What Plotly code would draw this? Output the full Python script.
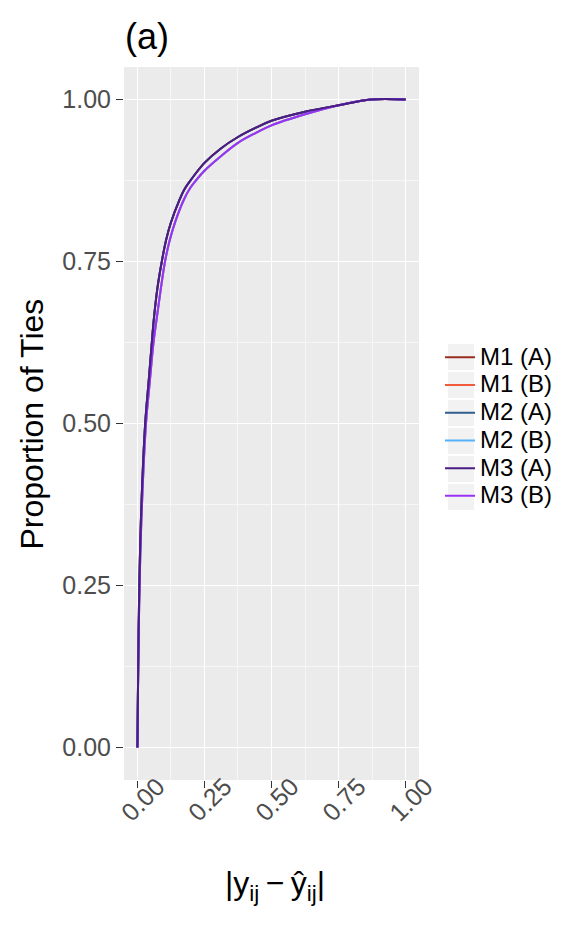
import plotly.graph_objects as go

series_names = ["M1 (A)", "M1 (B)", "M2 (A)", "M2 (B)", "M3 (A)", "M3 (B)"]
series_colors = ["#9A2E22", "#F25A3C", "#2F5D8C", "#56B1F7", "#4A1C86", "#9932F5"]

# |y - yhat| values (x) and cumulative proportion of ties (y)
x_A = [0.0, 0.003, 0.007, 0.015, 0.029, 0.043, 0.053, 0.061, 0.075, 0.091, 0.107, 0.125, 0.158, 0.175, 0.198,
       0.25, 0.31, 0.375, 0.44, 0.5, 0.625, 0.75, 0.87, 1.0]
y_A = [0.0, 0.125, 0.25, 0.375, 0.5, 0.57, 0.621, 0.66, 0.71, 0.75, 0.783, 0.81, 0.846, 0.861, 0.875,
       0.902, 0.924, 0.942, 0.956, 0.967, 0.981, 0.991, 1.0, 1.0]
x_B = [0.0, 0.003, 0.008, 0.017, 0.032, 0.047, 0.06, 0.074, 0.088, 0.103, 0.12, 0.14, 0.174, 0.198, 0.22,
       0.25, 0.31, 0.375, 0.44, 0.5, 0.625, 0.75, 0.87, 1.0]
y_B = [0.0, 0.125, 0.25, 0.375, 0.5, 0.568, 0.625, 0.668, 0.71, 0.75, 0.782, 0.81, 0.846, 0.864, 0.876,
       0.890, 0.912, 0.933, 0.948, 0.960, 0.977, 0.991, 1.0, 1.0]

m1_a_x, m1_a_y = list(x_A), list(y_A)
m1_b_x, m1_b_y = list(x_B), list(y_B)
m2_a_x, m2_a_y = list(x_A), list(y_A)
m2_b_x, m2_b_y = list(x_B), list(y_B)
m3_a_x, m3_a_y = list(x_A), list(y_A)
m3_b_x, m3_b_y = list(x_B), list(y_B)

series_x = [m1_a_x, m1_b_x, m2_a_x, m2_b_x, m3_a_x, m3_b_x]
series_y = [m1_a_y, m1_b_y, m2_a_y, m2_b_y, m3_a_y, m3_b_y]

tick_vals = [0.0, 0.25, 0.5, 0.75, 1.0]
tick_text = ["0.00", "0.25", "0.50", "0.75", "1.00"]

# page has an 8px body margin
OFF = 8
W, H = 565, 914
L, R, T, B = 116, 154, 59, 142
PW, PH = W - L - R, H - T - B


def px_to_paper_x(px):
    return (px - OFF - L) / PW


def py_to_paper_y(py):
    return 1 - (py - OFF - T) / PH


fig = go.Figure()
order = [1, 0, 3, 2, 5, 4]
for i in order:
    fig.add_trace(go.Scatter(
        x=series_x[i], y=series_y[i], mode="lines",
        name='<span style="font-size:24px">' + series_names[i] + '</span>',
        line=dict(color=series_colors[i], width=2, shape="spline", smoothing=1.0),
        legendrank=i + 1,
    ))

# light grey legend-key backgrounds
shapes = []
for k in range(len(series_names)):
    shapes.append(dict(type="rect", xref="paper", yref="paper", layer="below",
                       x0=px_to_paper_x(448), x1=px_to_paper_x(474),
                       y0=py_to_paper_y(343 + 28 * k + 27), y1=py_to_paper_y(343 + 28 * k + 1),
                       fillcolor="#F2F2F2", line=dict(width=0)))

font_family = "Liberation Sans, Arial, sans-serif"
fig.update_layout(
    width=W, height=H,
    margin=dict(l=L, r=R, t=T, b=B, autoexpand=False),
    paper_bgcolor="white",
    plot_bgcolor="#EBEBEB",
    font=dict(family=font_family, color="black"),
    title=dict(text="(a)", x=(125 - OFF) / W, xanchor="left", y=1 - (36 - OFF) / H, yanchor="middle",
               font=dict(size=36, color="black", family=font_family)),
    showlegend=True,
    legend=dict(x=px_to_paper_x(440), xanchor="left",
                y=py_to_paper_y(427), yanchor="middle",
                font=dict(size=19, color="black"), bgcolor="rgba(0,0,0,0)",
                tracegroupgap=0, itemwidth=30),
    shapes=shapes,
    annotations=[
        dict(text="Proportion of Ties", textangle=-90, xref="paper", yref="paper",
             x=px_to_paper_x(31), y=0.5, xanchor="center", yanchor="middle",
             showarrow=False, font=dict(size=32, color="black")),
        dict(text="|y<sub>ij</sub>\u2009\u2212\u2009ŷ<sub>ij</sub>|", xref="paper", yref="paper",
             x=px_to_paper_x(275), y=py_to_paper_y(885),
             xanchor="center", yanchor="middle",
             showarrow=False, font=dict(size=32, color="black")),
    ],
)
fig.update_xaxes(
    range=[-0.05, 1.05], tickvals=tick_vals, ticktext=tick_text, tickangle=-45,
    showgrid=True, gridcolor="white", gridwidth=1.4, zeroline=False,
    minor=dict(dtick=0.125, tick0=0.125, showgrid=True, gridcolor="#F6F6F6", gridwidth=0.7),
    ticks="outside", ticklen=7, tickcolor="#333333", tickwidth=1,
    tickfont=dict(size=25, color="#4D4D4D"), automargin=False,
    ticklabelshift=20, ticklabelstandoff=-26,
    showline=False,
)
fig.update_yaxes(
    range=[-0.05, 1.05], tickvals=tick_vals, ticktext=tick_text,
    showgrid=True, gridcolor="white", gridwidth=1.4, zeroline=False,
    minor=dict(dtick=0.125, tick0=0.125, showgrid=True, gridcolor="#F6F6F6", gridwidth=0.7),
    ticks="outside", ticklen=7, tickcolor="#333333", tickwidth=1,
    tickfont=dict(size=25, color="#4D4D4D"), automargin=False,
    showline=False,
)

fig.write_html("out.html")
